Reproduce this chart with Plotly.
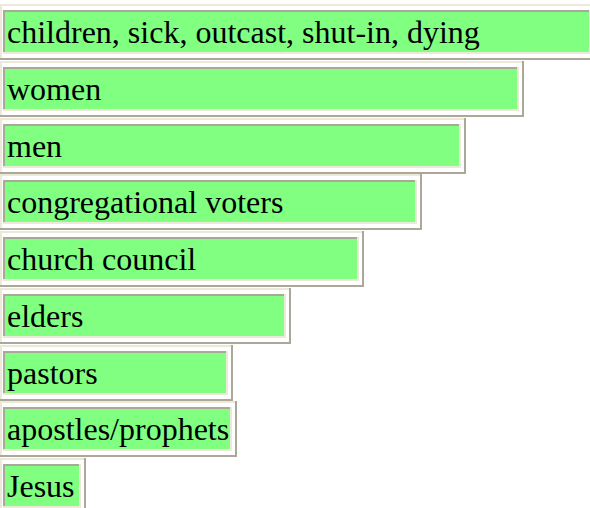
import plotly.graph_objects as go

# ---- data ----
labels = [
    "children, sick, outcast, shut-in, dying",
    "women",
    "men",
    "congregational voters",
    "church council",
    "elders",
    "pastors",
    "apostles/prophets",
    "Jesus",
]
# outer box widths (px)
bar_widths = [596, 524, 466, 422, 364, 291, 233, 237, 86]

# ---- style ----
GREEN = "#80FF80"
LIGHT = "#ECE9D8"
DARK = "#ACA899"
WHITE = "#FFFFFF"
P = 56.75          # px per row
W_PX, H_PX = 590, 508
FONT = "Liberation Serif, Times New Roman, serif"
TEXT_DY = 3        # px downward shift of labels

rows = list(range(len(labels)))

fig = go.Figure()

def layer(left, right_fn, top, bottom, color):
    fig.add_trace(go.Bar(
        orientation="h",
        y=rows,
        base=[left] * len(rows),
        x=[right_fn(w) - left for w in bar_widths],
        offset=(top - 28) / P,
        width=(bottom - top) / P,
        marker=dict(color=color, line=dict(width=0)),
        hoverinfo="skip",
        showlegend=False,
    ))

# outer table frame (raised: light top-left, dark bottom-right)
layer(0, lambda w: w, 0, 56, DARK)
layer(0, lambda w: w - 2, 0, 54, LIGHT)
layer(2, lambda w: w - 2, 2, 54, WHITE)
# inner cell (sunken: dark top-left, light bottom-right)
layer(3, lambda w: w - 5, 6, 50, LIGHT)
layer(3, lambda w: w - 7, 6, 48, DARK)
layer(5, lambda w: w - 7, 8, 48, GREEN)

fig.add_trace(go.Scatter(
    x=[7] * len(rows),
    y=[r + TEXT_DY / P for r in rows],
    text=labels,
    mode="text",
    textposition="middle right",
    textfont=dict(family=FONT, size=32, color="#000000"),
    hoverinfo="skip",
    showlegend=False,
    cliponaxis=False,
))

# row i center sits at px 32 + P*i
y_top = -32 / P
y_bot = y_top + H_PX / P

fig.update_layout(
    width=W_PX,
    height=H_PX,
    margin=dict(l=0, r=0, t=0, b=0),
    paper_bgcolor="white",
    plot_bgcolor="white",
    barmode="overlay",
    bargap=0,
    hovermode=False,
    xaxis=dict(range=[0, W_PX], visible=False, fixedrange=True),
    yaxis=dict(range=[y_bot, y_top], visible=False, fixedrange=True),
    showlegend=False,
)

fig.write_html(
    "out.html",
    config={"displayModeBar": False, "staticPlot": True},
    post_script="document.body.style.margin='0';document.body.style.overflow='hidden';",
)
